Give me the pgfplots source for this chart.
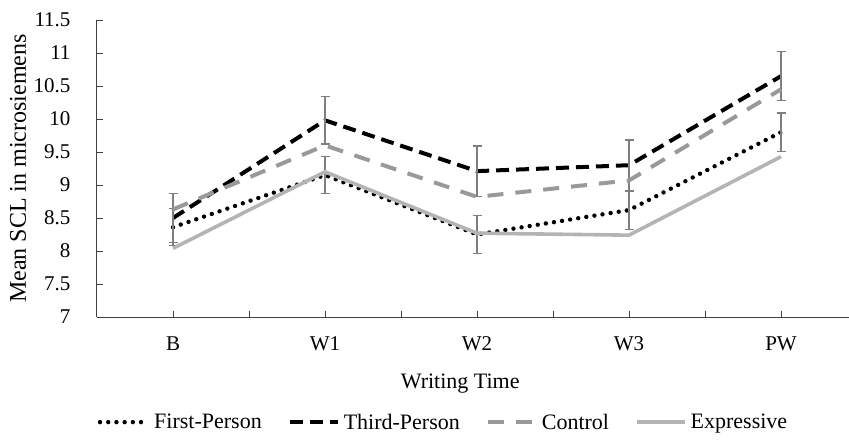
\documentclass[border=0pt]{standalone}
\usepackage{fontspec}
\setmainfont{Liberation Serif}
\usepackage{pgfplots}
\usepackage{pgfplotstable}
\pgfplotsset{compat=1.18}
\definecolor{ctrl}{HTML}{999999}
\definecolor{expr}{HTML}{B4B4B4}
\definecolor{errc}{HTML}{7F7F7F}
\definecolor{axc}{HTML}{404040}
\pgfplotstableread{
x y e
0 8.36 0.28
1 9.15 0.28
2 8.25 0.29
3 8.62 0.29
4 9.80 0.29
}\firstp
\pgfplotstableread{
x y e
0 8.50 0.37
1 9.98 0.36
2 9.21 0.38
3 9.30 0.38
4 10.65 0.37
}\thirdp
\pgfplotstableread{
x y
0 8.63
1 9.60
2 8.82
3 9.07
4 10.45
}\control
\pgfplotstableread{
x y
0 8.04
1 9.20
2 8.27
3 8.24
4 9.43
}\expressive
\begin{document}
\begin{tikzpicture}
\path[use as bounding box] (-97bp,-123bp) rectangle (752bp,317bp);
\begin{axis}[
  scale only axis, width=752bp, height=297bp,
  xmin=-0.5, xmax=4.447, ymin=7, ymax=11.5,
  axis lines*=left,
  axis line style={axc, line width=1bp},
  tick align=inside,
  major tick length=6bp, minor tick length=6bp,
  tick style={axc, line width=0.8bp},
  xtick={0,1,2,3,4}, xticklabels={B,W1,W2,W3,PW},
  minor xtick={0.5,1.5,2.5,3.5},
  ytick={7,7.5,8,8.5,9,9.5,10,10.5,11,11.5},
  yticklabels={7,7.5,8,8.5,9,9.5,10,10.5,11,11.5},
  /pgf/number format/assume math mode=true,
  ticklabel style={font=\fontsize{21bp}{25bp}\selectfont},
  yticklabel style={xshift=-23bp},
  xticklabel style={yshift=-16bp},
  xlabel={Writing Time},
  xlabel style={at={(axis description cs:0.483,-0.242)}, anchor=base, font=\fontsize{22bp}{26bp}\selectfont},
  ylabel={Mean SCL in microsiemens},
  ylabel style={at={(axis description cs:-0.105,0.5)}, anchor=center, font=\fontsize{24bp}{28bp}\selectfont},
  legend columns=4,
  legend style={at={(axis description cs:0.4608,-0.354)}, anchor=center, draw=none, fill=none,
    font=\fontsize{22bp}{26bp}\selectfont,
    /tikz/every even column/.append style={column sep=24bp},
    /tikz/every odd column/.append style={column sep=2bp}},
  legend image code/.code={\draw[#1] (0bp,0bp) -- (48bp,0bp);},
]
\addplot[black, mark=none, line width=4.4bp, line cap=round, dash pattern=on 0bp off 8.2bp,
  error bars/.cd, y dir=both, y explicit,
  error bar style={solid, line width=1.3bp, errc},
  error mark options={rotate=90, solid, errc, mark size=4.5bp, line width=1.3bp}]
  table[x=x, y=y, y error=e] {\firstp};
\addlegendentry{First-Person}
\addplot[black, mark=none, line width=4bp, dash pattern=on 13bp off 7bp,
  error bars/.cd, y dir=both, y explicit,
  error bar style={solid, line width=1.3bp, errc},
  error mark options={rotate=90, solid, errc, mark size=4.5bp, line width=1.3bp}]
  table[x=x, y=y, y error=e] {\thirdp};
\addlegendentry{Third-Person}
\addplot[ctrl, mark=none, line width=4bp, dash pattern=on 16bp off 12bp]
  table[x=x, y=y] {\control};
\addlegendentry{Control}
\addplot[expr, mark=none, line width=3.6bp]
  table[x=x, y=y] {\expressive};
\addlegendentry{Expressive}
\end{axis}
\end{tikzpicture}
\end{document}
